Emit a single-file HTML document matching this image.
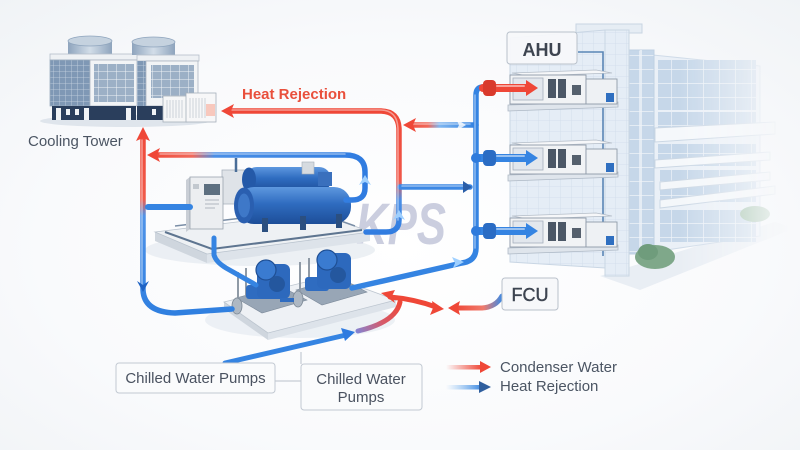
<!DOCTYPE html>
<html><head><meta charset="utf-8">
<style>
html,body{margin:0;padding:0;background:#f7f8fa;width:800px;height:450px;overflow:hidden}
svg{display:block}
text{font-family:"Liberation Sans",sans-serif}
</style></head><body>
<svg width="800" height="450" viewBox="0 0 800 450" xmlns="http://www.w3.org/2000/svg">
<defs>
 <radialGradient id="bg" cx="0.5" cy="0.55" r="0.75">
  <stop offset="0" stop-color="#ffffff"/>
  <stop offset="0.6" stop-color="#f9fafc"/>
  <stop offset="1" stop-color="#f0f3f6"/>
 </radialGradient>
 <linearGradient id="gL" gradientUnits="userSpaceOnUse" x1="0" y1="128" x2="0" y2="315">
  <stop offset="0" stop-color="#ef4737"/><stop offset="0.38" stop-color="#f05a4a"/>
  <stop offset="0.47" stop-color="#4f93e8"/><stop offset="1" stop-color="#2f7fe0"/>
 </linearGradient>
 <linearGradient id="gH" gradientUnits="userSpaceOnUse" x1="148" y1="0" x2="370" y2="0">
  <stop offset="0" stop-color="#ef4737"/><stop offset="0.2" stop-color="#f06a5c"/>
  <stop offset="0.3" stop-color="#4a8fe6"/><stop offset="1" stop-color="#2f7be0"/>
 </linearGradient>
 <linearGradient id="gR" gradientUnits="userSpaceOnUse" x1="0" y1="111" x2="0" y2="235">
  <stop offset="0" stop-color="#ef4737"/><stop offset="0.56" stop-color="#f0584a"/>
  <stop offset="0.72" stop-color="#4a8fe6"/><stop offset="1" stop-color="#2f7be0"/>
 </linearGradient>
 <linearGradient id="gB" gradientUnits="userSpaceOnUse" x1="403" y1="0" x2="476" y2="0">
  <stop offset="0" stop-color="#ef4737"/><stop offset="0.34" stop-color="#f0685a"/>
  <stop offset="0.5" stop-color="#7fb6f0"/><stop offset="1" stop-color="#2f7fe0"/>
 </linearGradient>
 <linearGradient id="gP" gradientUnits="userSpaceOnUse" x1="355" y1="332" x2="400" y2="300">
  <stop offset="0" stop-color="#7f86d8"/><stop offset="0.5" stop-color="#d65a6a"/><stop offset="1" stop-color="#ef4737"/>
 </linearGradient>
 <linearGradient id="gF" gradientUnits="userSpaceOnUse" x1="455" y1="0" x2="502" y2="0">
  <stop offset="0" stop-color="#ef4737"/><stop offset="0.6" stop-color="#f07a6c"/><stop offset="1" stop-color="#3c8ae6"/>
 </linearGradient>
 <linearGradient id="gLegR" x1="0" y1="0" x2="1" y2="0">
  <stop offset="0" stop-color="#ef4737" stop-opacity="0"/><stop offset="1" stop-color="#ef4737"/>
 </linearGradient>
 <linearGradient id="gLegB" x1="0" y1="0" x2="1" y2="0">
  <stop offset="0" stop-color="#6fb4f2" stop-opacity="0"/><stop offset="1" stop-color="#3a86e0"/>
 </linearGradient>
 <linearGradient id="cyl" x1="0" y1="0" x2="0" y2="1">
  <stop offset="0" stop-color="#5e98df"/><stop offset="0.45" stop-color="#2f6cc0"/><stop offset="1" stop-color="#1d4e98"/>
 </linearGradient>
 <linearGradient id="fan" x1="0" y1="0" x2="1" y2="0">
  <stop offset="0" stop-color="#8ea4bd"/><stop offset="0.5" stop-color="#d2dde8"/><stop offset="1" stop-color="#8ea4bd"/>
 </linearGradient>
 <linearGradient id="fadeM" gradientUnits="userSpaceOnUse" x1="680" y1="0" x2="790" y2="0">
  <stop offset="0" stop-color="#ffffff"/><stop offset="1" stop-color="#000000"/>
 </linearGradient>
 <mask id="bmask" maskUnits="userSpaceOnUse" x="0" y="0" width="800" height="450">
  <rect width="800" height="450" fill="url(#fadeM)"/>
 </mask>
 <pattern id="tile" width="11" height="11" patternUnits="userSpaceOnUse">
  <rect width="11" height="11" fill="#e5edf6"/>
  <path d="M11 0V11M0 11H11" stroke="#d0dcea" stroke-width="0.8"/>
 </pattern>
 <pattern id="grid" width="6" height="6" patternUnits="userSpaceOnUse">
  <rect width="6" height="6" fill="#7f98b5"/>
  <path d="M6 0V6M0 6H6" stroke="#c9d5e2" stroke-width="0.8"/>
 </pattern>
 <pattern id="grid2" width="9" height="8" patternUnits="userSpaceOnUse">
  <rect width="9" height="8" fill="#9cb0c6"/>
  <path d="M9 0V8M0 8H9" stroke="#eef2f6" stroke-width="1"/>
 </pattern>
 <pattern id="win" width="16" height="14" patternUnits="userSpaceOnUse">
  <rect width="16" height="14" fill="#c6d7e9"/>
  <path d="M16 0V14M0 14H16" stroke="#eef3f8" stroke-width="1.4"/>
 </pattern>
</defs>

<rect width="800" height="450" fill="url(#bg)"/>

<!-- ============ BUILDING ============ -->
<g mask="url(#bmask)">
 <polygon points="600,276 775,222 795,228 640,290" fill="#e9eef4"/>
 <!-- right wing -->
 <polygon points="653,55 760,66 760,236 653,252" fill="#eaf0f7" stroke="#cfdbe8"/>
 <rect x="658" y="60" width="98" height="50" fill="url(#win)"/>
 <rect x="658" y="112" width="98" height="18" fill="url(#win)"/>
 <polygon points="655,128 775,122 775,134 655,142" fill="#f5f8fb" stroke="#cbd7e4"/>
 <rect x="658" y="144" width="98" height="22" fill="url(#win)"/>
 <polygon points="655,160 770,152 770,160 655,168" fill="#f5f8fb" stroke="#cbd7e4"/>
 <rect x="660" y="170" width="96" height="32" fill="url(#win)"/>
 <polygon points="660,182 770,172 770,180 660,190" fill="#f4f7fa" stroke="#cbd7e4"/>
 <polygon points="660,200 775,186 775,194 660,208" fill="#f4f7fa" stroke="#cbd7e4"/>
 <rect x="660" y="210" width="96" height="32" fill="url(#win)"/>
 <!-- glass strip -->
 <rect x="628" y="50" width="26" height="204" fill="url(#win)" stroke="#bfd0e2"/>
 <line x1="641" y1="50" x2="641" y2="254" stroke="#eef3f8" stroke-width="1.5"/>
 <!-- tower column -->
 <rect x="576" y="24" width="66" height="9" fill="#e6edf4" stroke="#c8d5e2"/>
 <rect x="605" y="30" width="24" height="246" fill="url(#tile)" stroke="#c9d6e3"/>
 <!-- AHU wall -->
 <polygon points="510,38 605,30 605,268 510,262" fill="url(#tile)" stroke="#c9d6e4"/>
 <polyline points="578,52 603,52 603,256" fill="none" stroke="#5a86b5" stroke-width="1.6"/>
 <!-- bushes -->
 <ellipse cx="655" cy="257" rx="20" ry="12" fill="#7fa88a"/>
 <ellipse cx="648" cy="252" rx="10" ry="8" fill="#6f9c7c"/>
 <ellipse cx="755" cy="214" rx="15" ry="8" fill="#93b89c"/>
</g>

<!-- AHU units -->
<g id="ahu">
 <polygon points="508,105 618,102 618,107 508,111" fill="#dfe5ec" stroke="#aeb9c6" stroke-width="0.8"/>
 <polygon points="512,73 596,70 612,73 528,76" fill="#f6f7f9" stroke="#b4bdc8" stroke-width="0.8"/>
 <rect x="510" y="75" width="76" height="29" fill="#f1f3f5" stroke="#8e9aa8" stroke-width="0.9"/>
 <rect x="513" y="78" width="30" height="22" fill="#e2e7ed" stroke="#a6b0bc" stroke-width="0.8"/>
 <rect x="548" y="79" width="8" height="19" fill="#4b5766"/>
 <rect x="558" y="79" width="8" height="19" fill="#4b5766"/>
 <rect x="572" y="85" width="9" height="10" fill="#55606d"/>
 <rect x="586" y="79" width="31" height="25" fill="#eef1f4" stroke="#8e9aa8" stroke-width="0.9"/>
 <rect x="606" y="93" width="8" height="9" fill="#2f6fc0"/>
</g>
<use href="#ahu" transform="translate(0,70)"/>
<use href="#ahu" transform="translate(0,143)"/>

<!-- ============ COOLING TOWER ============ -->
<g>
 <ellipse cx="125" cy="121" rx="85" ry="6" fill="#dfe5ec"/>
 <rect x="68" y="41" width="44" height="14" fill="url(#fan)"/>
 <ellipse cx="90" cy="41" rx="22" ry="5" fill="#c5d2df" stroke="#8ea4bd" stroke-width="0.8"/>
 <rect x="50" y="54" width="88" height="6" fill="#eef1f4" stroke="#b5bfca" stroke-width="0.8"/>
 <rect x="50" y="60" width="40" height="46" fill="url(#grid)" stroke="#9aacbf" stroke-width="0.8"/>
 <rect x="90" y="60" width="47" height="46" fill="#f2f4f6" stroke="#aab4c0" stroke-width="0.8"/>
 <rect x="94" y="64" width="40" height="38" fill="url(#grid2)"/>
 <rect x="52" y="106" width="84" height="14" fill="#2a3e5c"/>
 <rect x="56" y="108" width="5" height="12" fill="#f0f3f6"/>
 <rect x="66" y="109" width="4" height="6" fill="#f0f3f6"/>
 <rect x="75" y="109" width="4" height="6" fill="#f0f3f6"/>
 <rect x="84" y="108" width="5" height="12" fill="#f0f3f6"/>
 <rect x="126" y="108" width="5" height="12" fill="#f0f3f6"/>
 <rect x="132" y="42" width="43" height="13" fill="url(#fan)"/>
 <ellipse cx="153.5" cy="42" rx="21.5" ry="5" fill="#c5d2df" stroke="#8ea4bd" stroke-width="0.8"/>
 <rect x="137" y="55" width="62" height="6" fill="#eef1f4" stroke="#b5bfca" stroke-width="0.8"/>
 <rect x="137" y="61" width="9" height="45" fill="url(#grid)"/>
 <rect x="146" y="61" width="52" height="45" fill="#f2f4f6" stroke="#aab4c0" stroke-width="0.8"/>
 <rect x="151" y="65" width="43" height="33" fill="url(#grid2)"/>
 <rect x="137" y="106" width="60" height="14" fill="#2a3e5c"/>
 <rect x="152" y="109" width="4" height="6" fill="#f0f3f6"/>
 <rect x="163" y="96" width="24" height="26" fill="#f5f6f7" stroke="#a5afba" stroke-width="0.8"/>
 <path d="M167 100V118M170 100V118M173 100V118M176 100V118M179 100V118M182 100V118" stroke="#c3cad2" stroke-width="0.8"/>
 <rect x="186" y="93" width="30" height="29" fill="#f7f7f8" stroke="#a5afba" stroke-width="0.8"/>
 <path d="M190 98V118M193 98V118M196 98V118M199 98V118M202 98V118M205 98V118" stroke="#c3cad2" stroke-width="0.8"/>
 <rect x="206" y="104" width="9" height="12" fill="#f8b4a4" opacity="0.7"/>
</g>

<!-- watermark -->
<text x="356" y="244" font-size="58" font-weight="bold" font-style="italic" fill="#b6bad2" opacity="0.7" textLength="90" lengthAdjust="spacingAndGlyphs">KPS</text>

<!-- ============ CHILLER ============ -->
<g>
 <ellipse cx="260" cy="250" rx="115" ry="16" fill="#e4e9ef" opacity="0.7"/>
 <polygon points="155,232 207,254 207,263 155,241" fill="#cfd6de"/>
 <polygon points="207,254 370,232 370,241 207,263" fill="#dde3ea"/>
 <polygon points="155,232 318,212 370,232 207,254" fill="#eef1f4" stroke="#b8c2cd" stroke-width="0.8"/>
 <polyline points="165,232 212,249 362,230" fill="none" stroke="#5e7590" stroke-width="2"/>
 <polyline points="175,226 310,210 355,226" fill="none" stroke="#7a8ea6" stroke-width="1.5"/>
 <rect x="222" y="170" width="24" height="34" fill="#dfe3e8" stroke="#a9b2bd" stroke-width="0.8"/>
 <line x1="236" y1="158" x2="236" y2="172" stroke="#4a6e98" stroke-width="2.5"/>
 <rect x="245" y="167" width="86" height="25" rx="12" fill="url(#cyl)"/>
 <ellipse cx="249" cy="179.5" rx="7" ry="12" fill="#2459a8"/>
 <rect x="302" y="162" width="12" height="12" fill="#d6dbe0" stroke="#a2acb7" stroke-width="0.6"/>
 <rect x="318" y="172" width="14" height="14" fill="#3a70bd"/>
 <rect x="237" y="187" width="114" height="37" rx="17" fill="url(#cyl)"/>
 <ellipse cx="244" cy="205.5" rx="10" ry="18" fill="#2a5fb0"/>
 <ellipse cx="244" cy="205.5" rx="6" ry="12" fill="#3e78c8"/>
 <rect x="262" y="218" width="6" height="14" fill="#2b4f80"/>
 <rect x="300" y="216" width="6" height="14" fill="#2b4f80"/>
 <rect x="336" y="214" width="6" height="14" fill="#2b4f80"/>
 <polygon points="186,180 190,177 190,229 186,232" fill="#c9ced5"/>
 <rect x="190" y="177" width="33" height="52" fill="#eceef1" stroke="#9aa3ae" stroke-width="0.8"/>
 <rect x="204" y="184" width="16" height="11" fill="#5d6f80"/>
 <path d="M205 200H219M205 204H219M205 208H215" stroke="#9aa3ae" stroke-width="0.8"/>
 <rect x="193" y="184" width="6" height="5" fill="#c2c8cf"/>
</g>

<!-- ============ PUMPS ============ -->
<g>
 <ellipse cx="300" cy="320" rx="95" ry="18" fill="#e6ebf1" opacity="0.7"/>
 <polygon points="224,302 268,333 268,340 224,309" fill="#cfd6de"/>
 <polygon points="268,333 396,300 396,307 268,340" fill="#dde3ea"/>
 <polygon points="224,302 330,276 396,300 268,333" fill="#eef1f5" stroke="#bcc5cf" stroke-width="0.8"/>
 <!-- pump 1 -->
 <polygon points="236,298 280,286 307,300 262,313" fill="#98a6b6" stroke="#7b8999" stroke-width="0.6"/>
 <line x1="238" y1="272" x2="238" y2="300" stroke="#8f9aa6" stroke-width="2"/>
 <line x1="246" y1="268" x2="246" y2="297" stroke="#8f9aa6" stroke-width="2"/>
 <rect x="246" y="285" width="24" height="14" rx="3" fill="#2f6cc0"/>
 <rect x="257" y="264" width="33" height="35" rx="6" fill="#2d69bd"/>
 <circle cx="266" cy="270" r="10" fill="#3a7bd0" stroke="#1f4f94" stroke-width="1.2"/>
 <circle cx="277" cy="284" r="8" fill="#24579e"/>
 <ellipse cx="237" cy="306" rx="5" ry="8" fill="#aeb8c3" stroke="#7b8794" stroke-width="0.8"/>
 <!-- pump 2 -->
 <polygon points="296,290 340,278 367,292 322,305" fill="#98a6b6" stroke="#7b8999" stroke-width="0.6"/>
 <line x1="300" y1="262" x2="300" y2="291" stroke="#8f9aa6" stroke-width="2"/>
 <line x1="309" y1="258" x2="309" y2="288" stroke="#8f9aa6" stroke-width="2"/>
 <rect x="305" y="277" width="24" height="14" rx="3" fill="#2f6cc0"/>
 <rect x="317" y="253" width="34" height="36" rx="6" fill="#2d69bd"/>
 <circle cx="327" cy="260" r="10" fill="#3a7bd0" stroke="#1f4f94" stroke-width="1.2"/>
 <circle cx="338" cy="275" r="8" fill="#24579e"/>
 <ellipse cx="298" cy="299" rx="5" ry="8" fill="#aeb8c3" stroke="#7b8794" stroke-width="0.8"/>
 <line x1="280" y1="300" x2="294" y2="300" stroke="#2f6cc0" stroke-width="4"/>
</g>

<!-- ============ PIPES ============ -->
<g fill="none" stroke-linecap="round" stroke-linejoin="round">
 <path d="M228 111 L380 111 Q399 111 399 130 L399 220 Q399 232 386 232 L366 232" stroke="url(#gR)" stroke-width="5.5"/>
 <path d="M143 138 L143 290 Q144 312 175 313 L232 309" stroke="url(#gL)" stroke-width="5.5"/>
 <path d="M156 155 L345 155 Q365 155 365 172 L365 188 Q365 200 352 200 L346 200" stroke="url(#gH)" stroke-width="5.5"/>
 <path d="M410 125 L476 125" stroke="url(#gB)" stroke-width="5.5"/>
 <path d="M400 187 L470 187" stroke="#3d88e4" stroke-width="5.5"/>
 <path d="M483 87 Q476 87 476 95 L476 248 Q476 261 462 263 L352 288" stroke="#3584e2" stroke-width="5.5"/>
 <path d="M148 207 L190 207" stroke="#3584e2" stroke-width="6"/>
 <path d="M214 238 L214 255 Q216 262 226 268 L256 285" stroke="#3584e2" stroke-width="5"/>
 <path d="M225 363 L346 335" stroke="#3584e2" stroke-width="5"/>
 <path d="M358 331 Q396 322 400 302" stroke="url(#gP)" stroke-width="5"/>
 <path d="M390 297 Q414 299 436 307" stroke="#ef4737" stroke-width="5"/>
 <path d="M502 296 Q496 307 482 308 L457 308" stroke="url(#gF)" stroke-width="5"/>
 <g stroke="#ffffff" stroke-opacity="0.45" stroke-width="1.5">
  <path d="M232 110 L380 110 Q398 110 398 130 L398 220"/>
  <path d="M142 140 L142 288"/>
  <path d="M160 154 L345 154"/>
  <path d="M475 95 L475 248"/>
  <path d="M412 124 L470 124"/>
  <path d="M402 186 L466 186"/>
 </g>
 <path d="M483 88 L527 88" stroke="#ef4737" stroke-width="8"/>
 <path d="M476 158 L527 158" stroke="#3584e2" stroke-width="8"/>
 <path d="M476 231 L527 231" stroke="#3584e2" stroke-width="8"/>
 <g stroke="#ffffff" stroke-opacity="0.5" stroke-width="2">
  <path d="M497 86 L524 86"/><path d="M497 156 L524 156"/><path d="M497 229 L524 229"/>
 </g>
</g>
<rect x="483" y="80" width="13" height="16" rx="4" fill="#d93a2c"/>
<rect x="483" y="150" width="13" height="16" rx="4" fill="#2a6cc4"/>
<rect x="483" y="223" width="13" height="16" rx="4" fill="#2a6cc4"/>
<circle cx="476" cy="158" r="5" fill="#2f7bdc"/>
<circle cx="476" cy="231" r="5" fill="#2f7bdc"/>

<g>
 <polygon points="221,111 234,104 231,111 234,118" fill="#ef4737"/>
 <polygon points="143,127 136,141 143,138 150,141" fill="#ef4737"/>
 <polygon points="147,155 160,148 157,155 160,162" fill="#ef4737"/>
 <polygon points="403,125 416,118 413,125 416,132" fill="#ef4737"/>
 <polygon points="143,292 137,281 143,285 149,281" fill="#1f63c4"/>
 <polygon points="365,175 359,185 365,182 371,185" fill="#9fd0ff"/>
 <polygon points="399,210 393,220 399,217 405,220" fill="#9fd0ff"/>
 <polygon points="466,125 456,119 459,125 456,131" fill="#ffffff" opacity="0.8"/>
 <polygon points="472,187 463,181 463,193" fill="#2a5ea8"/>
 <polygon points="464,262 452,257 455,263 453,268" fill="#9fd0ff"/>
 <polygon points="538,88 526,80 526,96" fill="#ef4737"/>
 <polygon points="538,158 526,150 526,166" fill="#3584e2"/>
 <polygon points="538,231 526,223 526,239" fill="#3584e2"/>
 <polygon points="355,332 341,328 343,334 345,341" fill="#2f7be0"/>
 <polygon points="381,293 395,290 392,296 395,303" fill="#ef4737"/>
 <polygon points="444,309 432,301 433,308 430,315" fill="#ef4737"/>
 <polygon points="448,308 460,301 458,308 460,315" fill="#ef4737"/>
</g>

<!-- ============ LABELS ============ -->
<text x="242" y="99" font-size="15" font-weight="bold" fill="#e9503c">Heat Rejection</text>
<text x="28" y="146" font-size="15" fill="#4b5563">Cooling Tower</text>

<rect x="507" y="32" width="70" height="32" rx="3" fill="#f7f8fa" fill-opacity="0.95" stroke="#b9c1cb"/>
<text x="542" y="56" font-size="18" font-weight="bold" fill="#3d4450" text-anchor="middle">AHU</text>

<rect x="502" y="278" width="56" height="32" rx="3" fill="#f7f8fa" stroke="#b9c1cb"/>
<text x="530" y="301" font-size="18" fill="#3d4450" stroke="#3d4450" stroke-width="0.4" text-anchor="middle">FCU</text>

<line x1="275" y1="381" x2="301" y2="381" stroke="#b9c1cb"/>
<line x1="301" y1="352" x2="301" y2="364" stroke="#b9c1cb"/>
<rect x="116" y="363" width="159" height="30" rx="3" fill="#fafbfc" stroke="#c2c9d2"/>
<text x="195.5" y="383" font-size="15" fill="#4a5260" text-anchor="middle">Chilled Water Pumps</text>
<rect x="301" y="364" width="121" height="46" rx="3" fill="#fafbfc" stroke="#c2c9d2"/>
<text x="361" y="384" font-size="15" fill="#4a5260" text-anchor="middle">Chilled Water</text>
<text x="361" y="402" font-size="15" fill="#4a5260" text-anchor="middle">Pumps</text>

<rect x="446" y="365" width="36" height="4.5" fill="url(#gLegR)"/>
<polygon points="491,367 480,361 480,373" fill="#ef4737"/>
<text x="500" y="372" font-size="15" fill="#4b5563">Condenser Water</text>
<rect x="446" y="385" width="36" height="4.5" fill="url(#gLegB)"/>
<polygon points="491,387 479,381 479,393" fill="#2f5f9e"/>
<text x="500" y="391" font-size="15" fill="#4b5563">Heat Rejection</text>
</svg>
</body></html>
